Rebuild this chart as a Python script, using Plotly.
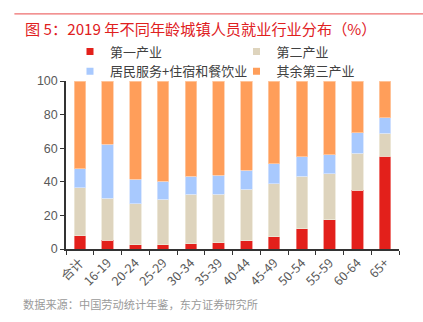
import plotly.graph_objects as go

# 2019 urban employment structure by age group (%)
categories = ["合计", "16-19", "20-24", "25-29", "30-34", "35-39", "40-44",
              "45-49", "50-54", "55-59", "60-64", "65+"]
primary = [7.9, 5.3, 2.6, 2.4, 3.2, 3.7, 4.9, 7.3, 12.1, 17.4, 34.9, 55.1]
secondary = [28.7, 25.0, 24.3, 27.3, 29.3, 29.0, 30.6, 31.5, 31.1, 27.4, 22.1, 13.8]
services = [11.3, 32.1, 14.7, 10.7, 10.7, 11.1, 11.3, 11.9, 11.6, 11.2, 12.3, 9.3]
other_tertiary = [round(100 - a - b - c, 1) for a, b, c in zip(primary, secondary, services)]

series_names = ["第一产业", "第二产业", "居民服务+住宿和餐饮业", "其余第三产业"]
series_values = [primary, secondary, services, other_tertiary]
colors = ["#E3201B", "#DED4BD", "#A8C9FE", "#FF9E5A"]
edge_colors = ["#F08A86", "#EEE8DA", "#D4E4FE", "#FFCBA6"]
# legend column for each series (two columns, two rows)
legend_ids = ["legend", "legend2", "legend", "legend2"]

FONT = "Liberation Sans, Arial, Noto Sans CJK SC"
CJK = "Noto Sans CJK SC, Liberation Sans"

fig = go.Figure()
for name, vals, col, edge in zip(series_names, series_values, colors, edge_colors):
    fig.add_trace(go.Bar(
        x=categories, y=vals, name=name, width=0.41,
        marker=dict(color=col, line=dict(color=edge, width=0.8)),
        showlegend=False, hoverinfo="x+y+name",
    ))

# Compact square legend markers
for name, col, lg in zip(series_names, colors, legend_ids):
    fig.add_trace(go.Scatter(
        x=[None], y=[None], mode="markers", name=name,
        marker=dict(symbol="square", size=7, color=col),
        showlegend=True, legend=lg,
    ))

legend_style = dict(
    orientation="v", yanchor="top", xanchor="left",
    font=dict(family=CJK, size=13, color="#404040"),
    itemwidth=30, traceorder="normal", tracegroupgap=0,
    bgcolor="rgba(0,0,0,0)", borderwidth=0,
)

fig.update_layout(
    width=423, height=322,
    barmode="stack",
    margin=dict(l=66, r=24, t=81, b=73),
    paper_bgcolor="white",
    plot_bgcolor="white",
    font=dict(family=FONT, size=12, color="#595959"),
    legend=dict(x=0.012, y=1.265, **legend_style),
    legend2=dict(x=0.512, y=1.265, **legend_style),
    xaxis=dict(
        type="category",
        tickangle=-45,
        tickson="boundaries",
        ticks="outside", ticklen=4, tickcolor="#333333", tickwidth=1,
        showline=True, linecolor="#333333", linewidth=1.5,
        showgrid=False,
        tickfont=dict(family=CJK, size=12.5, color="#595959"),
    ),
    yaxis=dict(
        range=[0, 100], dtick=20,
        ticks="outside", ticklen=4, tickcolor="#333333", tickwidth=1,
        showline=True, linecolor="#333333", linewidth=1.5,
        showgrid=False, zeroline=False,
        tickfont=dict(family=FONT, size=12.5, color="#595959"),
    ),
    shapes=[dict(type="line", xref="paper", yref="paper",
                 x0=-0.155, x1=1.075, y0=1.4, y1=1.4,
                 line=dict(color="#EE6E6E", width=1.2))],
    annotations=[
        dict(text="图 5：2019 年不同年龄城镇人员就业行业分布（%）",
             xref="paper", yref="paper", x=-0.128, y=1.39,
             xanchor="left", yanchor="top", showarrow=False,
             font=dict(family=CJK, size=15.2, color="#E0201E")),
        dict(text="数据来源：中国劳动统计年鉴，东方证券研究所",
             xref="paper", yref="paper", x=-0.135, y=-0.265,
             xanchor="left", yanchor="top", showarrow=False,
             font=dict(family=CJK, size=11.2, color="#9A9A9A")),
    ],
)

fig.write_html("out.html")
